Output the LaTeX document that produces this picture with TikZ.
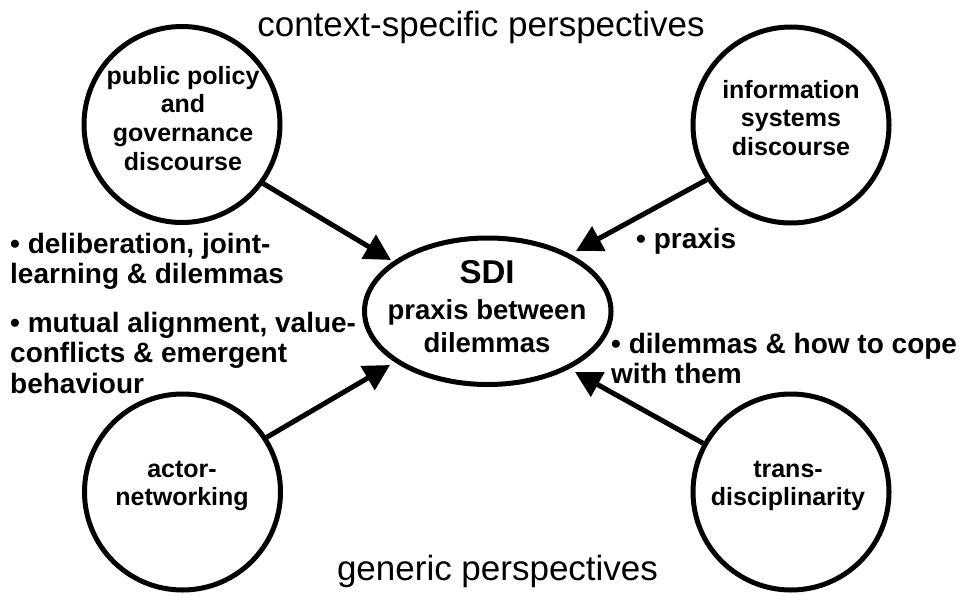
\documentclass[tikz,border=0pt]{standalone}
\usepackage{fontspec}
\setmainfont{Liberation Sans}
\usetikzlibrary{shapes.geometric,arrows.meta}

% font size with explicit line spacing
\newcommand{\fsz}[2]{\fontsize{#1}{#2}\selectfont}
% stacked lines, baseline of the node = baseline of the first line
\newcommand{\cstack}[1]{\begin{tabular}[t]{@{}c@{}}#1\end{tabular}}
\newcommand{\lstack}[1]{\begin{tabular}[t]{@{}l@{}}#1\end{tabular}}

\begin{document}
\begin{tikzpicture}[x=1pt,y=-1pt,
  disc/.style={circle,draw,line width=5pt,minimum size=196pt,inner sep=0pt},
  core/.style={ellipse,draw,line width=5pt,minimum width=246.5pt,minimum height=146.5pt,inner sep=0pt},
  flow/.style={line width=5pt,-{Triangle[length=26pt,width=27pt]}},
  circtext/.style={inner sep=0pt,anchor=base,font=\bfseries\fsz{25}{28.7}},
  note/.style={inner sep=0pt,anchor=base west,font=\bfseries\fsz{28}{30.5}},
  heading/.style={inner sep=0pt,anchor=base,font=\fsz{35}{40}}]

\useasboundingbox (0,0) rectangle (966,600);

% perspectives
\node[disc] (policy) at (182,124.5) {};
\node[disc] (infosys) at (791,125) {};
\node[disc] (actor) at (182.5,492) {};
\node[disc] (transdisc) at (791,492) {};

% central concept
\node[core] (sdi) at (487.75,311.25) {};

% texts inside the circles
\node[circtext] (policy-text) at (183,84) {\cstack{public policy\\and\\governance\\discourse}};
\node[circtext] (infosys-text) at (791,98) {\cstack{information\\systems\\discourse}};
\node[circtext] (actor-text) at (182,477) {\cstack{actor-\\networking}};
\node[circtext] (transdisc-text) at (788,477) {\cstack{trans-\\disciplinarity}};

% texts inside the ellipse
\node[inner sep=0pt,anchor=base,font=\bfseries\fsz{33}{38}] (sdi-title) at (487,283) {SDI};
\node[inner sep=0pt,anchor=base,font=\bfseries\fsz{27.5}{33}] (sdi-text) at (487,319) {\cstack{praxis between\\dilemmas}};

% arrow tips just outside the ellipse
\coordinate (tip-policy) at (391,260);
\coordinate (tip-infosys) at (576,251);
\coordinate (tip-actor) at (390,365);
\coordinate (tip-transdisc) at (575,372);

\draw[flow] (policy.-36.5) -- (tip-policy);
\draw[flow] (infosys.213.7) -- (tip-infosys);
\draw[flow] (actor.33.1) -- (tip-actor);
\draw[flow] (transdisc.151.7) -- (tip-transdisc);

% annotations
\node[note] (note-deliberation) at (10,253) {\lstack{• deliberation, joint-\\learning \& dilemmas}};
\node[note] (note-alignment) at (10,332) {\lstack{• mutual alignment, value-\\conflicts \& emergent\\behaviour}};
\node[note] (note-praxis) at (636,248) {• praxis};
\node[note] (note-cope) at (611,353) {\lstack{• dilemmas \& how to cope\\with them}};

% headings
\node[heading] (context) at (481,36) {context-specific perspectives};
\node[heading] (generic) at (497.5,580) {generic perspectives};

\end{tikzpicture}
\end{document}
